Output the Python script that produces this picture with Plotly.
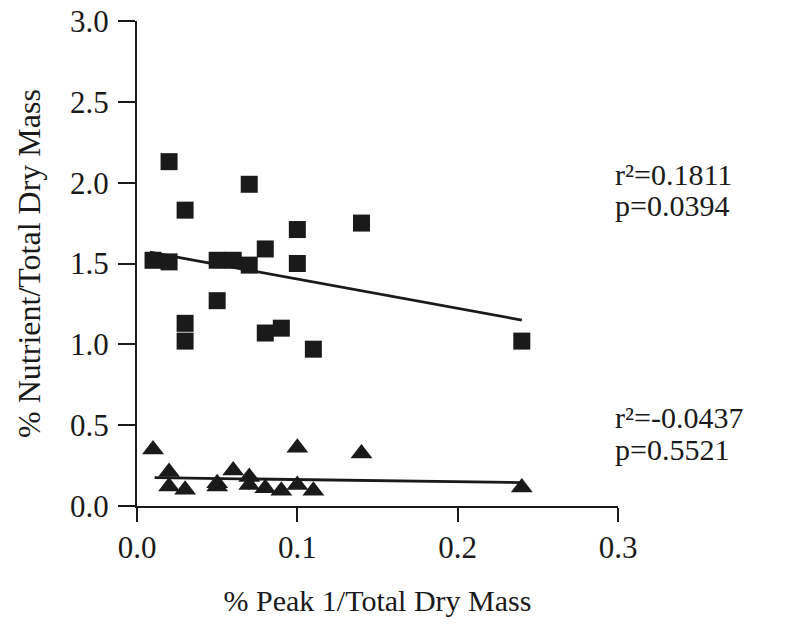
import plotly.graph_objects as go

# Squares (top series)
sq_x = [0.01, 0.02, 0.02, 0.03, 0.03, 0.03, 0.05, 0.05, 0.06, 0.07, 0.07, 0.08, 0.08, 0.09, 0.10, 0.10, 0.11, 0.14, 0.24]
sq_y = [1.52, 1.51, 2.13, 1.83, 1.13, 1.02, 1.52, 1.27, 1.52, 1.99, 1.49, 1.59, 1.07, 1.10, 1.71, 1.50, 0.97, 1.75, 1.02]
# Triangles (bottom series)
tr_x = [0.01, 0.02, 0.02, 0.03, 0.05, 0.05, 0.06, 0.07, 0.07, 0.08, 0.09, 0.10, 0.10, 0.11, 0.14, 0.24]
tr_y = [0.35, 0.21, 0.12, 0.10, 0.14, 0.12, 0.22, 0.18, 0.13, 0.11, 0.095, 0.36, 0.13, 0.095, 0.325, 0.115]
# Fit lines
fit_sq_x = [0.008, 0.24]
fit_sq_y = [1.57, 1.15]
fit_tr_x = [0.011, 0.24]
fit_tr_y = [0.175, 0.145]

x_ticks = [0.0, 0.1, 0.2, 0.3]
y_ticks = [0.0, 0.5, 1.0, 1.5, 2.0, 2.5, 3.0]

# Statistics text
stat_texts = ["r\u00b2=0.1811", "p=0.0394", "r\u00b2=-0.0437", "p=0.5521"]
stat_y = [2.05, 1.86, 0.55, 0.35]

font = "Liberation Serif, Times New Roman, serif"
ink = "#1a1a1a"

fig = go.Figure()
fig.add_trace(go.Scatter(x=fit_sq_x, y=fit_sq_y, mode="lines", line=dict(color=ink, width=2.8), showlegend=False))
fig.add_trace(go.Scatter(x=fit_tr_x, y=fit_tr_y, mode="lines", line=dict(color=ink, width=2.8), showlegend=False))
fig.add_trace(go.Scatter(x=sq_x, y=sq_y, mode="markers",
                         marker=dict(symbol="square", size=17, color=ink, line=dict(width=0)), showlegend=False))
fig.add_trace(go.Scatter(x=tr_x, y=tr_y, mode="markers",
                         marker=dict(symbol="triangle-up", size=19, color=ink, line=dict(width=0)), showlegend=False))

annotations = [
    dict(xref="paper", yref="y", x=0.99, y=yv, xanchor="left", yanchor="middle", showarrow=False,
         align="left", text=t, font=dict(size=30, family=font, color=ink))
    for t, yv in zip(stat_texts, stat_y)
]

fig.update_layout(
    width=791, height=640,
    margin=dict(l=137, r=173, t=21, b=134),
    plot_bgcolor="white", paper_bgcolor="white",
    font=dict(family=font, size=28, color=ink),
    xaxis=dict(range=[0, 0.3], tickvals=x_ticks, tickformat=".1f", showgrid=False, zeroline=False,
               showline=True, linecolor=ink, linewidth=2, ticks="outside", ticklen=14, tickwidth=2,
               tickcolor=ink, ticklabelstandoff=-1, automargin=False,
               title=dict(text="% Peak 1/Total Dry Mass", standoff=26, font=dict(size=30, family=font)),
               tickfont=dict(size=31, family=font)),
    yaxis=dict(range=[0, 3.0], tickvals=y_ticks, tickformat=".1f", showgrid=False, zeroline=False,
               showline=True, linecolor=ink, linewidth=2, ticks="outside", ticklen=17, tickwidth=2,
               tickcolor=ink, ticklabelstandoff=3, automargin=False,
               title=dict(text="% Nutrient/Total Dry Mass", standoff=20, font=dict(size=32, family=font)),
               tickfont=dict(size=31, family=font)),
    annotations=annotations,
)
fig.write_html("out.html")
